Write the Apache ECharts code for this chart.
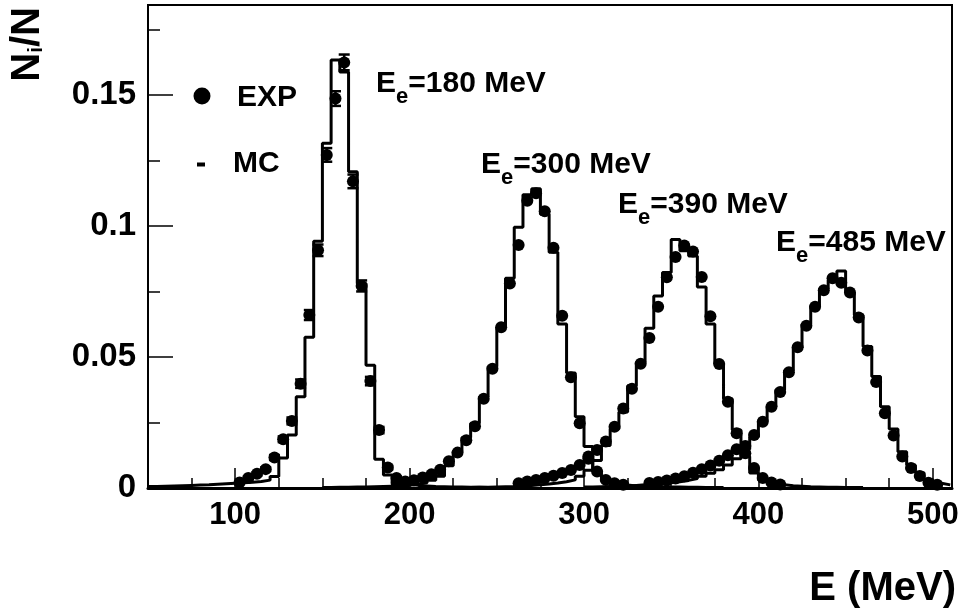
<!DOCTYPE html>
<html>
<head>
<meta charset="utf-8">
<script src="https://cdn.jsdelivr.net/npm/echarts@6/dist/echarts.min.js"></script>
<style>
  html, body { margin: 0; padding: 0; background: #fff; }
  #chart { width: 965px; height: 616px; }
</style>
</head>
<body>
<div id="chart"></div>
<script>
// Energy spectra N_i/N for four beam energies: MC histograms (5 MeV bins) and measured points.
const BIN_WIDTH = 5;

// MC histograms: low edge of the first bin, then one value per bin
const mc180Start = 50;
const mc180 = [0.0006, 0.0007, 0.0008, 0.0009, 0.001, 0.0011, 0.0012, 0.0014, 0.0016, 0.0018,
  0.002, 0.0022, 0.0025, 0.003, 0.0044, 0.0114, 0.0202, 0.0348, 0.0575, 0.0942,
  0.1315, 0.1633, 0.1587, 0.1207, 0.078, 0.0468, 0.011, 0.005, 0.0025, 0.0015,
  0.001, 0.0008, 0.0006, 0.0005, 0.0004, 0.0004, 0.0003, 0.0003, 0.0002, 0.0002,
  0.0002, 0.0001];

const mc300Start = 150;
const mc300 = [0.0002, 0.0003, 0.0003, 0.0004, 0.0004, 0.0005, 0.0006, 0.0007, 0.0008, 0.001,
  0.0014, 0.002, 0.003, 0.0045, 0.0085, 0.0139, 0.0193, 0.0247, 0.0348, 0.0464,
  0.0613, 0.08, 0.0995, 0.1119, 0.1142, 0.1045, 0.09, 0.0626, 0.0439, 0.0272,
  0.0158, 0.0065, 0.003, 0.0016, 0.0011, 0.0008, 0.0007, 0.0006, 0.0005, 0.0004,
  0.0004, 0.0003, 0.0003, 0.0002, 0.0002, 0.0002];

const mc390Start = 230;
const mc390 = [0.0002, 0.0003, 0.0003, 0.0004, 0.0005, 0.0006, 0.0008, 0.001, 0.0012, 0.0015,
  0.0019, 0.0024, 0.0031, 0.0045, 0.0068, 0.0105, 0.0162, 0.0225, 0.029, 0.039,
  0.048, 0.061, 0.0733, 0.0822, 0.0948, 0.0905, 0.0885, 0.0767, 0.0626, 0.0474,
  0.0341, 0.0221, 0.012, 0.0057, 0.0031, 0.0018, 0.0012, 0.0009, 0.0007, 0.0005,
  0.0004, 0.0003, 0.0003, 0.0002, 0.0002, 0.0002];

const mc485Start = 300;
const mc485 = [0.0004, 0.0005, 0.0006, 0.0007, 0.0008, 0.001, 0.0012, 0.0014, 0.0017, 0.002,
  0.0024, 0.0029, 0.0036, 0.0045, 0.0056, 0.007, 0.0088, 0.0112, 0.0148, 0.0195,
  0.0255, 0.031, 0.0375, 0.0448, 0.0535, 0.0625, 0.0695, 0.076, 0.0793, 0.0828,
  0.0745, 0.066, 0.054, 0.0425, 0.031, 0.0225, 0.0138, 0.0088, 0.0058, 0.0032,
  0.0018, 0.0012];

// Measured points: centre of the first bin, then one value per bin
const exp180Start = 102.5;
const exp180 = [0.0021, 0.0038, 0.0054, 0.0072, 0.0116, 0.0186, 0.0256, 0.0398, 0.066, 0.0907,
  0.1271, 0.1486, 0.1624, 0.117, 0.0771, 0.0408, 0.0221, 0.0078, 0.0038];
const err180 = [0.0004, 0.0005, 0.0006, 0.0007, 0.0009, 0.0011, 0.0013, 0.0016, 0.0019, 0.0022,
  0.0026, 0.0028, 0.003, 0.0026, 0.0021, 0.0016, 0.0012, 0.0007, 0.0005];

const exp300Start = 192.5;
const exp300 = [0.002, 0.0025, 0.003, 0.004, 0.0052, 0.007, 0.0102, 0.0135, 0.0182, 0.0236,
  0.0341, 0.0455, 0.0613, 0.078, 0.0927, 0.1096, 0.1125, 0.1056, 0.0917, 0.0657,
  0.0423, 0.0247, 0.012, 0.0063, 0.0031, 0.0018, 0.0012];

const exp390Start = 262.5;
const exp390 = [0.0018, 0.0025, 0.0031, 0.0038, 0.0047, 0.0057, 0.0069, 0.0088, 0.0112, 0.0145,
  0.0177, 0.0234, 0.0303, 0.0379, 0.0474, 0.0572, 0.0692, 0.0804, 0.0881, 0.0925,
  0.0902, 0.0805, 0.0655, 0.0473, 0.0329, 0.0209, 0.0133, 0.0076, 0.0038, 0.0021,
  0.0013];

const exp485Start = 337.5;
const exp485 = [0.0019, 0.0023, 0.0029, 0.0036, 0.0045, 0.0058, 0.0072, 0.0086, 0.0104, 0.0125,
  0.0148, 0.016, 0.0202, 0.0253, 0.031, 0.0366, 0.0442, 0.0537, 0.0619, 0.0692,
  0.0755, 0.08, 0.0783, 0.0746, 0.0651, 0.0525, 0.0404, 0.0285, 0.02, 0.012,
  0.0076, 0.0046, 0.002, 0.0012];

// Axis ticks and labels
const xMajorTicks = [100, 200, 300, 400, 500];
const xMinorTicks = [75, 125, 150, 175, 225, 250, 275, 325, 350, 375, 425, 450, 475];
const yMajorTicks = [0, 0.05, 0.1, 0.15];
const yMinorTicks = [0.025, 0.075, 0.125, 0.175];

const X_MIN = 50, X_MAX = 511, Y_MAX = 0.1843;
const FONT = "'Liberation Sans', Arial, Helvetica, sans-serif";
const MARKER = 12;

// step outline: one point per low bin edge plus the closing upper edge
function histPoints(start, values) {
  const pts = values.map((v, i) => [start + i * BIN_WIDTH, v]);
  pts.push([start + values.length * BIN_WIDTH, values[values.length - 1]]);
  return pts;
}
function pointData(start, values, errs) {
  return values.map((v, i) => errs ? [start + i * BIN_WIDTH, v, errs[i]] : [start + i * BIN_WIDTH, v]);
}

function mcSeries(start, values) {
  return {
    type: 'line', step: 'end', symbol: 'none', silent: true, z: 3,
    data: histPoints(start, values),
    lineStyle: { color: '#000', width: 3 }
  };
}
function expSeries(start, values) {
  return {
    type: 'scatter', symbol: 'circle', symbolSize: MARKER, silent: true, z: 5,
    itemStyle: { color: '#000', opacity: 1 },
    data: pointData(start, values)
  };
}

const errorBars = {
  type: 'custom', silent: true, z: 4,
  data: pointData(exp180Start, exp180, err180),
  encode: { x: 0, y: 1 },
  renderItem: function (params, api) {
    const x = api.value(0), v = api.value(1), e = api.value(2);
    const top = api.coord([x, v + e]);
    const bot = api.coord([x, v - e]);
    const hw = 5.5;
    const st = { stroke: '#000', lineWidth: 2.5 };
    return {
      type: 'group',
      children: [
        { type: 'line', shape: { x1: top[0], y1: top[1], x2: bot[0], y2: bot[1] }, style: st },
        { type: 'line', shape: { x1: top[0] - hw, y1: top[1], x2: top[0] + hw, y2: top[1] }, style: st },
        { type: 'line', shape: { x1: bot[0] - hw, y1: bot[1], x2: bot[0] + hw, y2: bot[1] }, style: st }
      ]
    };
  }
};

// rich text with a lowered subscript
function subText(main1, sub, main2, size, subSize, pad) {
  return {
    text: '{m|' + main1 + '}{s|' + sub + '}{m|' + main2 + '}',
    rich: {
      m: { fontSize: size, fontWeight: 'bold', fontFamily: FONT, lineHeight: size, fill: '#000' },
      s: { fontSize: subSize, fontWeight: 'bold', fontFamily: FONT, lineHeight: subSize, padding: [pad, 0, 0, 0], fill: '#000' }
    },
    fill: '#000'
  };
}
function beamLabel(energy, x, y) {
  return {
    type: 'text', x: x, y: y, silent: true, z: 10,
    style: Object.assign(subText('E', 'e', '=' + energy + ' MeV', 30, 22, 25), { align: 'left', verticalAlign: 'middle' })
  };
}

const chart = echarts.init(document.getElementById('chart'), null, { renderer: 'canvas' });
chart.setOption({
  animation: false,
  backgroundColor: '#fff',
  grid: { left: 148, right: 13, top: 5, bottom: 128, show: true, borderColor: '#000', borderWidth: 2, backgroundColor: 'transparent' },
  xAxis: [
    {
      type: 'value', min: X_MIN, max: X_MAX, position: 'bottom',
      axisLine: { show: true, onZero: false, lineStyle: { color: '#000', width: 3 } },
      axisTick: { show: true, inside: true, length: 20, customValues: xMajorTicks, lineStyle: { color: '#000', width: 1.5 } },
      axisLabel: { show: true, customValues: xMajorTicks, fontSize: 31, fontWeight: 'bold', fontFamily: FONT, color: '#000', margin: 12 },
      splitLine: { show: false }
    },
    {
      type: 'value', min: X_MIN, max: X_MAX, position: 'bottom',
      axisLine: { show: false },
      axisTick: { show: true, inside: true, length: 10, customValues: xMinorTicks, lineStyle: { color: '#000', width: 1.5 } },
      axisLabel: { show: false },
      splitLine: { show: false }
    }
  ],
  yAxis: [
    {
      type: 'value', min: 0, max: Y_MAX, position: 'left',
      axisLine: { show: true, onZero: false, lineStyle: { color: '#000', width: 2 } },
      axisTick: { show: true, inside: true, length: 25, customValues: yMajorTicks, lineStyle: { color: '#000', width: 1.5 } },
      axisLabel: { show: true, customValues: yMajorTicks, fontSize: 33, fontWeight: 'bold', fontFamily: FONT, color: '#000', margin: 12 },
      splitLine: { show: false }
    },
    {
      type: 'value', min: 0, max: Y_MAX, position: 'left',
      axisLine: { show: false },
      axisTick: { show: true, inside: true, length: 12, customValues: yMinorTicks, lineStyle: { color: '#000', width: 1.5 } },
      axisLabel: { show: false },
      splitLine: { show: false }
    }
  ],
  series: [
    mcSeries(mc180Start, mc180),
    mcSeries(mc300Start, mc300),
    mcSeries(mc390Start, mc390),
    mcSeries(mc485Start, mc485),
    errorBars,
    expSeries(exp180Start, exp180),
    expSeries(exp300Start, exp300),
    expSeries(exp390Start, exp390),
    expSeries(exp485Start, exp485)
  ],
  graphic: [
    // legend
    { type: 'circle', shape: { cx: 202, cy: 96, r: 8.5 }, style: { fill: '#000' }, silent: true },
    { type: 'text', x: 237, y: 97.5, silent: true,
      style: { text: 'EXP', fontSize: 30, fontWeight: 'bold', fontFamily: FONT, fill: '#000', align: 'left', verticalAlign: 'middle' } },
    { type: 'rect', shape: { x: 197, y: 162.5, width: 8, height: 4 }, style: { fill: '#000' }, silent: true },
    { type: 'text', x: 233, y: 164, silent: true,
      style: { text: 'MC', fontSize: 30, fontWeight: 'bold', fontFamily: FONT, fill: '#000', align: 'left', verticalAlign: 'middle' } },
    // beam energy labels
    beamLabel(180, 376, 84),
    beamLabel(300, 481, 165),
    beamLabel(390, 618, 205),
    beamLabel(485, 776, 243),
    // axis titles
    { type: 'text', x: 956, y: 589, silent: true,
      style: { text: 'E (MeV)', fontSize: 40, fontWeight: 'bold', fontFamily: FONT, fill: '#000', align: 'right', verticalAlign: 'middle' } },
    { type: 'text', x: 27.5, y: 7, rotation: Math.PI / 2, silent: true,
      style: Object.assign(subText('N', 'i', '/N', 40, 21, 17), { align: 'right', verticalAlign: 'middle' }) }
  ]
});
</script>
</body>
</html>
